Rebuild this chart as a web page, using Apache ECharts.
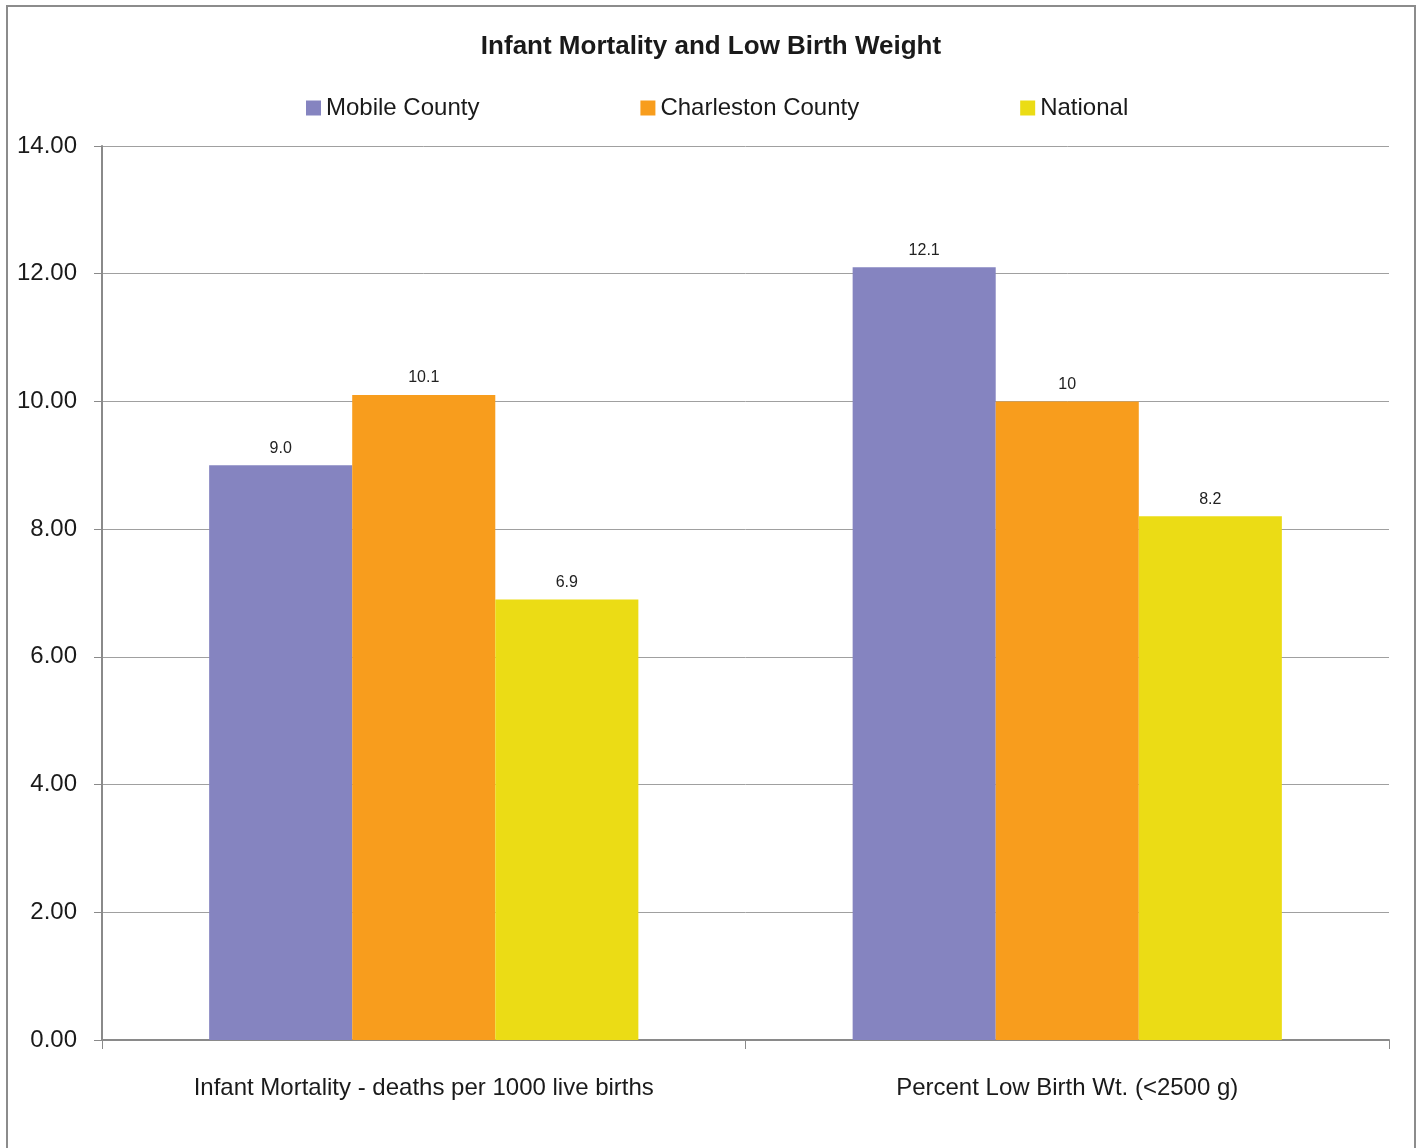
<!DOCTYPE html>
<html>
<head>
<meta charset="utf-8">
<script src="https://cdn.jsdelivr.net/npm/echarts@6/dist/echarts.min.js"></script>
<style>
html,body{margin:0;padding:0;background:#fff;}
#chart{width:1422px;height:1148px;}
</style>
</head>
<body>
<div id="chart"></div>
<script>
const categories = ["Infant Mortality - deaths per 1000 live births", "Percent Low Birth Wt. (<2500 g)"];
const seriesNames = ["Mobile County", "Charleston County", "National"];
const mobileValues = [9.0, 12.1];
const charlestonValues = [10.1, 10.0];
const nationalValues = [6.9, 8.2];
const mobileLabels = ["9.0", "12.1"];
const charlestonLabels = ["10.1", "10"];
const nationalLabels = ["6.9", "8.2"];
const colors = ["#8584C0", "#F89D1D", "#EBDC15"];

const FONT = "'Liberation Sans', Arial, sans-serif";
const chart = echarts.init(document.getElementById('chart'));

function mkSeries(name, values, labels, color) {
  return {
    name: name,
    type: 'bar',
    data: values,
    barGap: '0%',
    barCategoryGap: '33.3%',
    itemStyle: { color: color },
    label: {
      show: true,
      position: 'top',
      distance: 9,
      fontFamily: FONT,
      fontSize: 16,
      color: '#222',
      formatter: function (p) { return labels[p.dataIndex]; }
    }
  };
}

chart.setOption({
  animation: false,
  backgroundColor: '#fff',
  color: colors,
  title: {
    text: 'Infant Mortality and Low Birth Weight',
    left: 'center',
    top: 29,
    textStyle: { fontFamily: FONT, fontSize: 26, fontWeight: 'bold', color: '#1a1a1a' }
  },
  legend: {
    top: 91,
    left: 301,
    itemWidth: 15,
    itemHeight: 15,
    itemGap: 161,
    icon: 'rect',
    textStyle: { fontFamily: FONT, fontSize: 24, color: '#1a1a1a' },
    data: seriesNames
  },
  grid: { left: 102, right: 33, top: 146, bottom: 108, containLabel: false },
  xAxis: {
    type: 'category',
    data: categories,
    axisLine: { lineStyle: { color: '#8a8a8a', width: 2 } },
    axisTick: { show: true, length: 9, lineStyle: { color: '#8a8a8a', width: 1 } },
    axisLabel: { fontFamily: FONT, fontSize: 24, color: '#1a1a1a', margin: 36 }
  },
  yAxis: {
    type: 'value',
    min: 0,
    max: 14,
    interval: 2,
    axisLine: { show: true, lineStyle: { color: '#8a8a8a', width: 2 } },
    axisTick: { show: true, length: 8, lineStyle: { color: '#8a8a8a', width: 1 } },
    splitLine: { lineStyle: { color: '#a0a0a0', width: 1 } },
    axisLabel: {
      fontFamily: FONT, fontSize: 24, color: '#1a1a1a', margin: 25,
      formatter: function (v) { return v.toFixed(2); }
    }
  },
  graphic: [{
    type: 'rect',
    shape: { x: 7, y: 6, width: 1408, height: 1160 },
    style: { fill: 'none', stroke: '#8c8c8c', lineWidth: 2 },
    silent: true,
    z: -1
  }],
  series: [
    mkSeries(seriesNames[0], mobileValues, mobileLabels, colors[0]),
    mkSeries(seriesNames[1], charlestonValues, charlestonLabels, colors[1]),
    mkSeries(seriesNames[2], nationalValues, nationalLabels, colors[2])
  ]
});
</script>
</body>
</html>
